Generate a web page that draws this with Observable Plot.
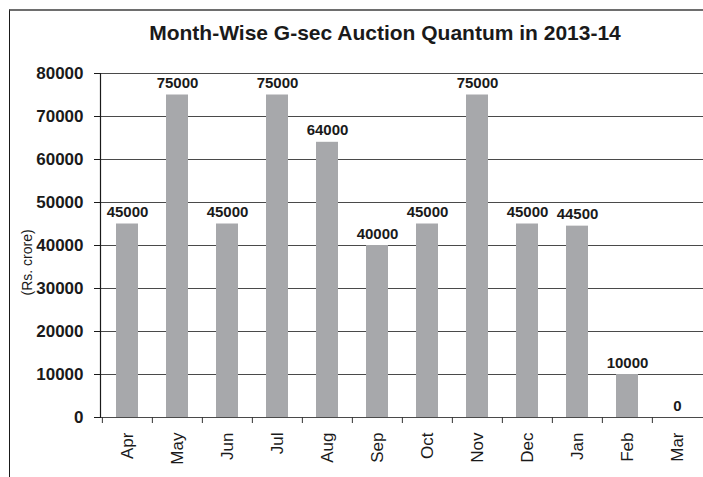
<!DOCTYPE html>
<html>
<head>
<meta charset="utf-8">
<script src="https://cdn.jsdelivr.net/npm/d3@7"></script>
<script src="https://cdn.jsdelivr.net/npm/@observablehq/plot@0.6"></script>
<style>
  html, body { margin: 0; padding: 0; background: #fff; }
  #wrap { position: relative; width: 703px; height: 477px; overflow: hidden; }
  #border { position: absolute; left: 9px; top: 9px; width: 720px; height: 500px;
            border-top: 2px solid #6e6e6e; border-left: 1.5px solid #1a1a1a; box-sizing: border-box; }
  #chart { position: absolute; left: 0; top: 0; }
</style>
</head>
<body>
<div id="wrap"><div id="border"></div><div id="chart"></div></div>
<script>
const title = "Month-Wise G-sec Auction Quantum in 2013-14";
const yLabel = "(Rs. crore)";
const months = ["Apr", "May", "Jun", "Jul", "Aug", "Sep", "Oct", "Nov", "Dec", "Jan", "Feb", "Mar"];
const values = [45000, 75000, 45000, 75000, 64000, 40000, 45000, 75000, 45000, 44500, 10000, 0];
const yTicks = [0, 10000, 20000, 30000, 40000, 50000, 60000, 70000, 80000];

const data = months.map((m, i) => ({month: m, value: values[i]}));
const font = "'Liberation Sans', Arial, Helvetica, sans-serif";

const chart = Plot.plot({
  width: 703,
  height: 477,
  marginTop: 73,
  marginBottom: 60,
  marginLeft: 100,
  marginRight: 0,
  style: {fontFamily: font, background: "transparent", color: "#1a1a1a"},
  x: {domain: months, paddingInner: 0.56, paddingOuter: 0.28, align: 0.5, label: null},
  y: {domain: [0, 80000], ticks: yTicks, label: null},
  marks: [
    Plot.gridY(yTicks, {stroke: "#4a4a4a", strokeOpacity: 1, strokeWidth: 1.2}),
    Plot.barY(data, {x: "month", y: "value", fill: "#a7a8ab"}),
    Plot.ruleY([0], {stroke: "#4a4a4a", strokeWidth: 1.2}),
    Plot.frame({anchor: "left", stroke: "#1a1a1a", strokeWidth: 1.2}),
    Plot.axisY(yTicks, {tickSize: 6, tickPadding: 11, fontSize: 17, fontWeight: "bold",
      tickFormat: d => String(d), label: null, stroke: "#1a1a1a", fill: "#1a1a1a"}),
    Plot.axisX({tickSize: 6, dx: -25.13, tickFormat: () => "", label: null, stroke: "#333"}),
    Plot.axisX({tickSize: 0, tickPadding: 15, tickRotate: -90, fontSize: 17, label: null, fill: "#1a1a1a"}),
    Plot.text(data, {x: "month", y: "value", text: d => String(d.value), dy: -7,
      lineAnchor: "bottom", fontSize: 15, fontWeight: "bold", fill: "#1a1a1a"}),
    Plot.text([title], {frameAnchor: "top", dy: -40, dx: -17, fontSize: 21, fontWeight: "bold",
      fill: "#1a1a1a", lineAnchor: "middle"}),
    Plot.text([yLabel], {frameAnchor: "left", dx: -73, dy: 50, rotate: -90, fontSize: 14,
      fill: "#1a1a1a", lineAnchor: "middle"})
  ]
});
document.getElementById("chart").appendChild(chart);
</script>
</body>
</html>
